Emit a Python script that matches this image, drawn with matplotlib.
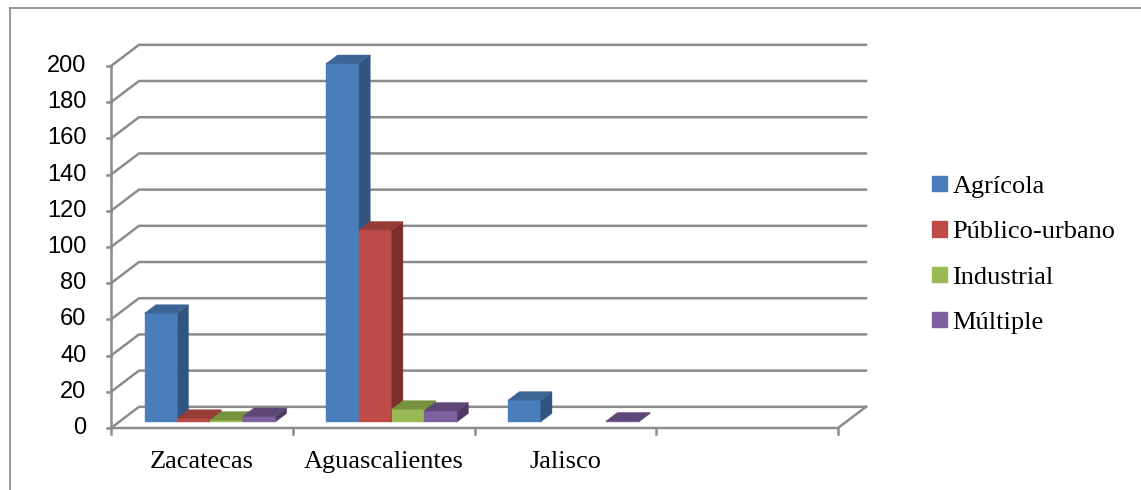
import numpy as np
import matplotlib.pyplot as plt
from matplotlib.patches import Polygon, Patch
from matplotlib.lines import Line2D

categories = ["Zacatecas", "Aguascalientes", "Jalisco", ""]
series_names = ["Agrícola", "Público-urbano", "Industrial", "Múltiple"]
agricola = [60, 198, 12, np.nan]
publico_urbano = [2, 106, np.nan, np.nan]
industrial = [1, 7, np.nan, np.nan]
multiple = [3, 6, 0.5, np.nan]
yticks = list(range(0, 201, 20))

# front / top / side shades per series
FACES = [
    ("#4A7EBB", "#3C6494", "#32557F"),
    ("#BE4B48", "#973B39", "#7A2F2D"),
    ("#98B954", "#77923F", "#62792F"),
    ("#7D60A0", "#5E4879", "#4D3B65"),
]
GRID = "#8C8C8C"

# oblique depth vector of the back wall, in data units
DX, DY = 0.154, 11.7
F0, F1 = 0.29, 0.69  # bar depth span as fraction of the wall depth
BAR_W = 0.18
GROUP_START = 0.14


def draw_box(ax, x0, h, colors):
    front, top, side = colors
    ox0, oy0 = F0 * DX, F0 * DY
    ox1, oy1 = F1 * DX, F1 * DY
    x1 = x0 + BAR_W
    faces = [
        ([(x0 + ox0, oy0), (x1 + ox0, oy0), (x1 + ox0, h + oy0), (x0 + ox0, h + oy0)], front),
        ([(x1 + ox0, oy0), (x1 + ox1, oy1), (x1 + ox1, h + oy1), (x1 + ox0, h + oy0)], side),
        ([(x0 + ox0, h + oy0), (x1 + ox0, h + oy0), (x1 + ox1, h + oy1), (x0 + ox1, h + oy1)], top),
    ]
    for pts, c in faces:
        ax.add_patch(Polygon(pts, closed=True, facecolor=c, edgecolor=c,
                             linewidth=0.3, clip_on=False, zorder=3))


def main():
    fig = plt.figure(figsize=(11.41, 4.90), dpi=100)
    ax = fig.add_axes([111 / 1141, 62 / 490, 727 / 1141, 362 / 490])
    n = len(categories)
    ax.set_xlim(0, n)
    ax.set_ylim(0, 200)
    ax.axis("off")

    # walls: left diagonals + back horizontals
    for v in yticks:
        ax.plot([0, DX, n + DX], [v, v + DY, v + DY], color=GRID, lw=1.8,
                clip_on=False, zorder=1, solid_joinstyle="miter")
        ax.plot([-0.022, 0], [v, v], color=GRID, lw=1.8, clip_on=False, zorder=1)
    # floor front edge, right edge and vertical axis
    ax.plot([0, n, n + DX], [0, 0, DY], color=GRID, lw=1.8, clip_on=False, zorder=2)
    ax.plot([0, 0], [0, 200], color=GRID, lw=1.8, clip_on=False, zorder=2)
    for i in range(n + 1):
        ax.plot([i, i], [0, -3.5], color=GRID, lw=1.8, clip_on=False, zorder=2)

    series = [agricola, publico_urbano, industrial, multiple]
    for ci in range(n):
        for si, vals in enumerate(series):
            v = vals[ci]
            if np.isnan(v):
                continue
            draw_box(ax, ci + GROUP_START + si * BAR_W, v, FACES[si])

    for v in yticks:
        ax.text(-0.135, v, str(v), ha="right", va="center", fontsize=17,
                family="Liberation Sans")
    for ci, name in enumerate(categories):
        ax.text(ci + 0.5, -19, name, ha="center", va="center", fontsize=19,
                family="Liberation Serif")

    handles = [Patch(facecolor=f[0], edgecolor=f[0]) for f in FACES]
    fig.legend(handles, series_names, loc="upper left",
               bbox_to_anchor=(932 / 1141, 1 - 176 / 490), frameon=False,
               prop={"family": "Liberation Serif", "size": 19},
               handlelength=0.55, handleheight=0.52, handletextpad=0.22,
               labelspacing=0.88, borderpad=0, borderaxespad=0)

    # chart border (top and left edges visible)
    fig.add_artist(Line2D([10 / 1141, 1], [1 - 8 / 490, 1 - 8 / 490],
                          color="#868686", lw=1.2, transform=fig.transFigure))
    fig.add_artist(Line2D([10 / 1141, 10 / 1141], [0, 1 - 8 / 490],
                          color="#868686", lw=1.2, transform=fig.transFigure))

    fig.savefig("out.png", dpi=100)


if __name__ == "__main__":
    main()
